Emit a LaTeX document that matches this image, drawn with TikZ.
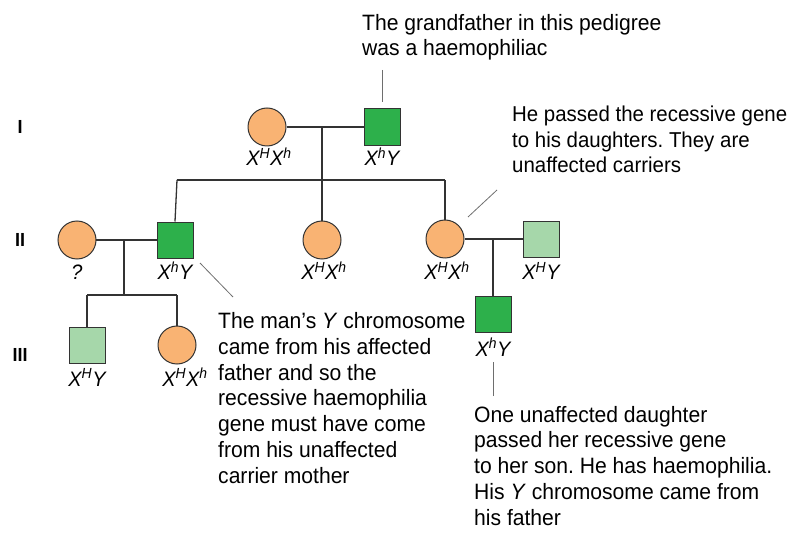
\documentclass[tikz,border=0pt]{standalone}
\usepackage{fontspec}
\setmainfont{Liberation Sans}[FakeStretch=0.95]
\usepackage{tikz}
\definecolor{carrier}{HTML}{F9B373}
\definecolor{affected}{HTML}{2DB04B}
\definecolor{normal}{HTML}{A6D7AA}
\definecolor{linec}{HTML}{333333}
\definecolor{notec}{HTML}{6E6E6E}
\frenchspacing

\tikzset{
  female/.style={circle,draw=linec,fill=carrier,line width=1pt,minimum size=38bp,inner sep=0pt},
  male/.style={rectangle,draw=linec,line width=1pt,minimum size=36bp,inner sep=0pt},
  geno/.style={font=\fontsize{21}{24}\selectfont\itshape,inner sep=0pt,anchor=base},
  note/.style={font=\fontsize{22.3}{25.8}\selectfont,align=left,anchor=base west,inner sep=0pt},
  gen/.style={font=\fontsize{19}{22}\selectfont\bfseries,inner sep=0pt},
  kin/.style={draw=linec,line width=1.3pt},
  callout/.style={draw=notec,line width=0.8pt}
}

\begin{document}
\begin{tikzpicture}[x=1bp,y=-1bp]
\useasboundingbox (0,0) rectangle (793,550);

% generations
\node [gen] (G1) at (20,127) {I};
\node [gen] (G2) at (20,240) {II};
\node [gen] (G3) at (20,355) {III};

% generation I
\node [female] (F1) at (267,127) {};
\node [male,fill=affected] (M1) at (382,127) {};
\node [geno] (L1) at (269,166) {X\textsuperscript{H}X\textsuperscript{h}};
\node [geno] (L2) at (382,166) {X\textsuperscript{h}Y};

% generation II
\node [female] (F2) at (77,240) {};
\node [male,fill=affected] (M2) at (175,240) {};
\node [female] (F3) at (322,240) {};
\node [female] (F4) at (445,239) {};
\node [male,fill=normal] (M3) at (541,239) {};
\node [geno] (L3) at (77,280) {?};
\node [geno] (L4) at (175,280) {X\textsuperscript{h}Y};
\node [geno] (L5) at (324,280) {X\textsuperscript{H}X\textsuperscript{h}};
\node [geno] (L6) at (447,280) {X\textsuperscript{H}X\textsuperscript{h}};
\node [geno] (L7) at (541,280) {X\textsuperscript{H}Y};

% generation III
\node [male,fill=normal] (M5) at (87,345) {};
\node [female] (F5) at (177,345) {};
\node [male,fill=affected] (M4) at (493,314) {};
\node [geno] (L8) at (87,386) {X\textsuperscript{H}Y};
\node [geno] (L9) at (185,386) {X\textsuperscript{H}X\textsuperscript{h}};
\node [geno] (L10) at (493,356) {X\textsuperscript{h}Y};

% lines of descent
\coordinate (c1) at (322,127);
\coordinate (c2) at (322,180);
\coordinate (s1) at (177,180);
\coordinate (s2) at (445,180);
\draw [kin] (F1.east) -- (M1.west);
\draw [kin] (c1) -- (c2);
\draw [kin] (s1) -- (s2);
\draw [kin] (s1) -- (M2.north);
\draw [kin] (c2) -- (F3.north);
\draw [kin] (s2) -- (F4.north);

\coordinate (c3) at (124,240);
\coordinate (c4) at (124,295);
\coordinate (s3) at (87,295);
\coordinate (s4) at (177,295);
\draw [kin] (F2.east) -- (M2.west);
\draw [kin] (c3) -- (c4);
\draw [kin] (s3) -- (s4);
\draw [kin] (s3) -- (M5.north);
\draw [kin] (s4) -- (F5.north);

\coordinate (c5) at (493,239);
\draw [kin] (F4.east) -- (M3.west);
\draw [kin] (c5) -- (M4.north);

% notes (anchored on the last line)
\node [note] (N1) at (362,56) {The grandfather in this pedigree\\was a haemophiliac};
\node [note,font=\fontsize{21.6}{25.8}\selectfont] (N2) at (512,173) {He passed the recessive gene\\to his daughters. They are\\unaffected carriers};
\node [note] (N3) at (218,483) {The man's \textit{Y} chromosome\\came from his affected\\father and so the\\recessive haemophilia\\gene must have come\\from his unaffected\\carrier mother};
\node [note] (N4) at (474,525) {One unaffected daughter\\passed her recessive gene\\to her son. He has haemophilia.\\His \textit{Y} chromosome came from\\his father};

\coordinate (p1) at (382,70);
\coordinate (q1) at (382,102);
\coordinate (p2) at (497,190);
\coordinate (q2) at (468,217);
\coordinate (p3) at (233,297);
\coordinate (q3) at (200,263);
\coordinate (p4) at (493,396);
\coordinate (q4) at (493,362);
\draw [callout] (p1) -- (q1);
\draw [callout] (p2) -- (q2);
\draw [callout] (p3) -- (q3);
\draw [callout] (p4) -- (q4);

\end{tikzpicture}
\end{document}
